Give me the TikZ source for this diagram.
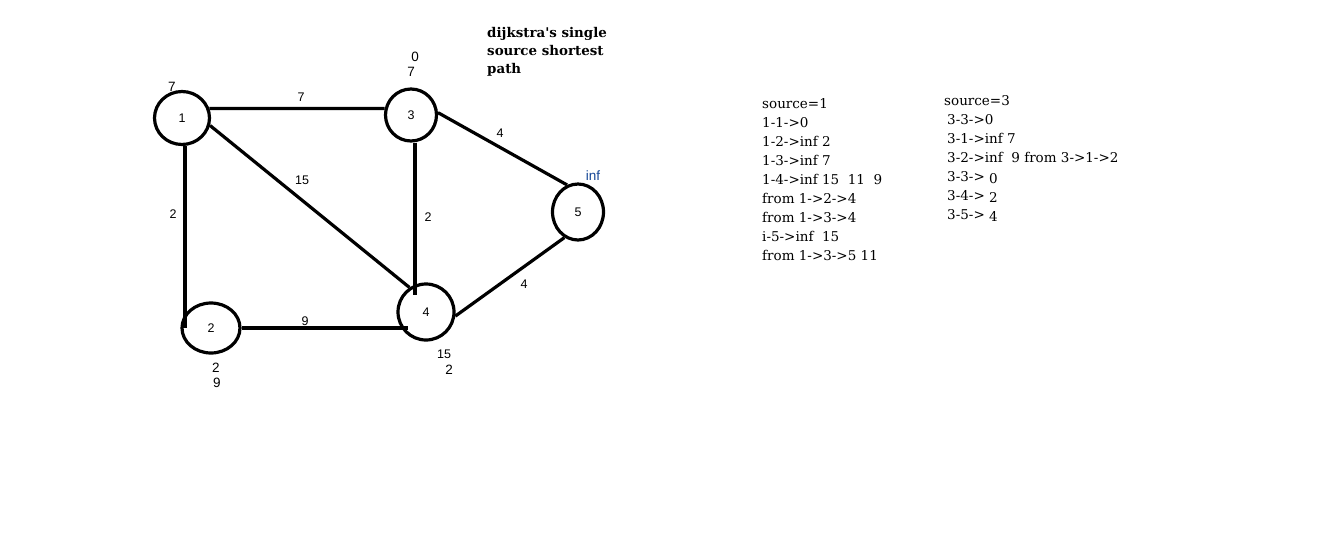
\documentclass[tikz,border=0pt]{standalone}
\usepackage{fontspec}
\setmainfont{Liberation Sans}
\newfontfamily\notefont{DejaVu Serif}
\usetikzlibrary{shapes.geometric}
\definecolor{infblue}{RGB}{20,70,150}
\tikzset{
  vert/.style={draw, ellipse, line width=3.2pt, inner sep=0pt, font=\fontsize{12.5}{14}\selectfont},
  edge/.style={line width=3.2pt},
  wlab/.style={font=\fontsize{12.5}{14}\selectfont, inner sep=0pt},
  dlab/.style={font=\fontsize{13.5}{15}\selectfont, inner sep=0pt},
  note/.style={font=\notefont\fontsize{13.5}{19}\selectfont, anchor=base west, inner sep=0pt},
  ttl/.style={font=\notefont\bfseries\fontsize{13.4}{18}\selectfont, anchor=base west, inner sep=0pt}
}
\begin{document}
\begin{tikzpicture}[x=1pt, y=-1pt]
\useasboundingbox (0,0) rectangle (1327,538);
\fill[white] (0,0) rectangle (1327,538);
% vertices
\node[vert, minimum width=55pt, minimum height=53pt] (n1) at (182,118) {1};
\node[vert, minimum width=51pt, minimum height=52pt] (n3) at (411,115) {3};
\node[vert, minimum width=51pt, minimum height=56pt] (n5) at (578,212) {5};
\node[vert, minimum width=56pt, minimum height=56pt] (n4) at (426,312) {4};
\node[vert, minimum width=58pt, minimum height=50pt] (n2) at (211,328) {2};
\coordinate (c34) at (415,295);
\coordinate (c24) at (408,327);
% edges
\draw[edge] (n1.19) -- (n3.166);
\draw[edge] (n1.south) ++(3,0) coordinate (s1) -- (s1 |- n2.west);
\draw[edge] (n1.-15) -- (n4.124);
\draw[edge] (n3.south) ++(4,0) coordinate (s3) -- (s3 |- c34);
\draw[edge] (n3.5) -- (n5.112);
\draw[edge] (n2.east) -- (n2.east -| c24);
\draw[edge] (n4.-8) -- (n5.-118);
% edge weights
\node[wlab] (w13) at (301,97) {7};
\node[wlab] (w14) at (302,180) {15};
\node[wlab] (w12) at (173,214) {2};
\node[wlab] (w34) at (428,217) {2};
\node[wlab] (w35) at (500,133) {4};
\node[wlab] (w24) at (305,321) {9};
\node[wlab] (w45) at (524,284) {4};
% distance annotations
\node[dlab] (d1) at (172,87) {7};
\node[dlab] (d3a) at (415,57) {0};
\node[dlab] (d3b) at (411,72) {7};
\node[dlab, text=infblue] (d5) at (593,176) {inf};
\node[dlab] (d2a) at (216,368) {2};
\node[dlab] (d2b) at (217,383) {9};
\node[wlab] (d4a) at (444,354) {15};
\node[dlab] (d4b) at (449,370) {2};
% title
\node[ttl] (t1) at (487,37) {dijkstra's single};
\node[ttl] (t2) at (487,55) {source shortest};
\node[ttl] (t3) at (487,73) {path};
% notes column 1
\node[note] (a1) at (762,108) {source=1};
\node[note] (a2) at (762,127) {1-1->0};
\node[note] (a3) at (762,146) {1-2->inf 2};
\node[note] (a4) at (762,165) {1-3->inf 7};
\node[note] (a5) at (762,184) {1-4->inf 15\ \ 11\ \ 9};
\node[note] (a6) at (762,203) {from 1->2->4};
\node[note] (a7) at (762,222) {from 1->3->4};
\node[note] (a8) at (762,241) {i-5->inf\ \ 15};
\node[note] (a9) at (762,260) {from 1->3->5 11};
% notes column 2
\node[note] (b1) at (944,105) {source=3};
\node[note] (b2) at (947,124) {3-3->0};
\node[note] (b3) at (947,143) {3-1->inf 7};
\node[note] (b4) at (947,162) {3-2->inf\ \ 9 from 3->1->2};
\node[note] (b5) at (947,181) {3-3-> \raisebox{-2pt}{0}};
\node[note] (b6) at (947,200) {3-4-> \raisebox{-2pt}{2}};
\node[note] (b7) at (947,219) {3-5-> \raisebox{-2pt}{4}};
\end{tikzpicture}
\end{document}
